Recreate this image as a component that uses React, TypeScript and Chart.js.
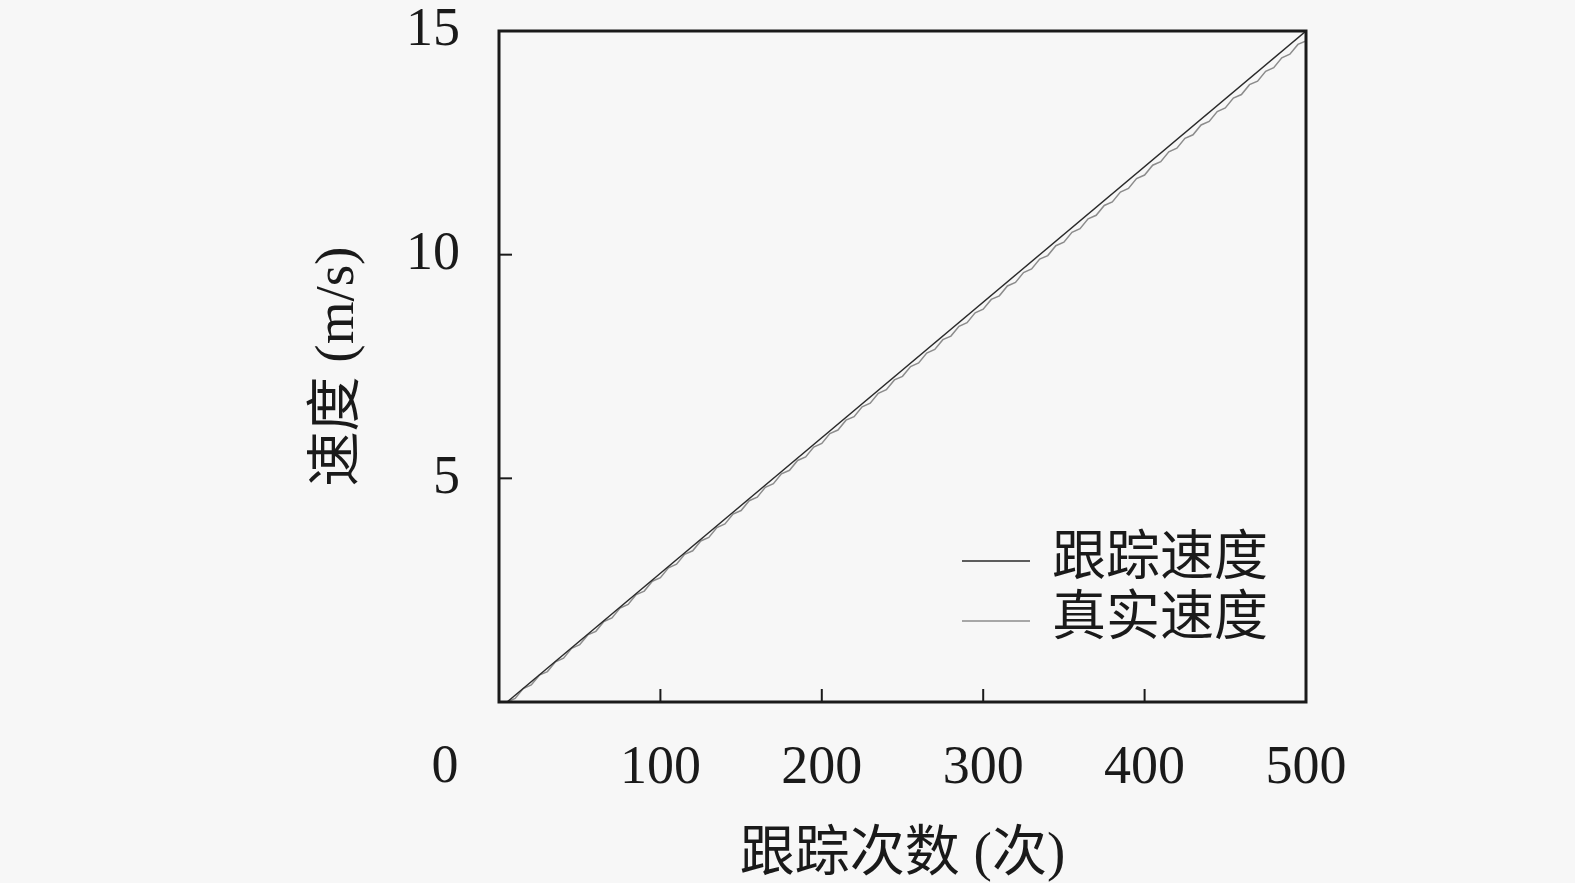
import { useEffect, useRef } from "react";
import { Chart, registerables } from "chart.js";

Chart.register(...registerables);

// 跟踪速度: straight line
const trackX = [5, 500];
const trackY = [0, 15];

// 真实速度: slightly lagging sawtooth
const trueX = [
  5, 10, 15, 20, 25, 30, 35, 40, 45, 50, 55, 60, 65, 70, 75, 80, 85, 90, 95, 100,
  105, 110, 115, 120, 125, 130, 135, 140, 145, 150, 155, 160, 165, 170, 175, 180, 185, 190, 195, 200,
  205, 210, 215, 220, 225, 230, 235, 240, 245, 250, 255, 260, 265, 270, 275, 280, 285, 290, 295, 300,
  305, 310, 315, 320, 325, 330, 335, 340, 345, 350, 355, 360, 365, 370, 375, 380, 385, 390, 395, 400,
  405, 410, 415, 420, 425, 430, 435, 440, 445, 450, 455, 460, 465, 470, 475, 480, 485, 490, 495, 500,
];
const trueY = [
  0, 0.08, 0.3, 0.38, 0.6, 0.68, 0.9, 0.98, 1.2, 1.28, 1.5, 1.58, 1.8, 1.88, 2.1, 2.18, 2.4, 2.48, 2.7, 2.78,
  3.0, 3.08, 3.3, 3.38, 3.6, 3.68, 3.9, 3.98, 4.2, 4.28, 4.5, 4.58, 4.8, 4.88, 5.1, 5.18, 5.4, 5.48, 5.7, 5.78,
  6.0, 6.08, 6.3, 6.38, 6.6, 6.68, 6.9, 6.98, 7.2, 7.28, 7.5, 7.58, 7.8, 7.88, 8.1, 8.18, 8.4, 8.48, 8.7, 8.78,
  9.0, 9.08, 9.3, 9.38, 9.6, 9.68, 9.9, 9.98, 10.2, 10.28, 10.5, 10.58, 10.8, 10.88, 11.1, 11.18, 11.4, 11.48, 11.7, 11.78,
  12.0, 12.08, 12.3, 12.38, 12.6, 12.68, 12.9, 12.98, 13.2, 13.28, 13.5, 13.58, 13.8, 13.88, 14.1, 14.18, 14.4, 14.48, 14.7, 14.78,
];

const xTicks = [0, 100, 200, 300, 400, 500];
const yTicks = [0, 5, 10, 15];
const seriesLabels = ["跟踪速度", "真实速度"];
const seriesColors = ["#2a2a2a", "#8c8c8c"];

const numFont = "'Liberation Serif', 'DejaVu Serif', serif";
const cjkFont = "'Liberation Serif', 'Noto Sans CJK SC', serif";

// background, box, inward ticks, origin label and legend inside the plot
const framePlugin = {
  id: "frame",
  beforeDraw(chart: any) {
    const { ctx, width, height } = chart;
    ctx.save();
    ctx.fillStyle = "#f7f7f7";
    ctx.fillRect(0, 0, width, height);
    ctx.restore();
  },
  afterDraw(chart: any) {
    const { ctx, chartArea } = chart;
    const xs = chart.scales.x;
    const ys = chart.scales.y;
    ctx.save();
    ctx.strokeStyle = "#1a1a1a";
    ctx.lineWidth = 3;
    ctx.strokeRect(chartArea.left, chartArea.top, chartArea.right - chartArea.left, chartArea.bottom - chartArea.top);

    ctx.lineWidth = 2;
    xTicks.slice(1, -1).forEach((v) => {
      const px = xs.getPixelForValue(v);
      ctx.beginPath();
      ctx.moveTo(px, chartArea.bottom);
      ctx.lineTo(px, chartArea.bottom - 13);
      ctx.stroke();
    });
    yTicks.slice(1, -1).forEach((v) => {
      const py = ys.getPixelForValue(v);
      ctx.beginPath();
      ctx.moveTo(chartArea.left, py);
      ctx.lineTo(chartArea.left + 13, py);
      ctx.stroke();
    });

    // shared origin label
    ctx.fillStyle = "#1a1a1a";
    ctx.font = `54px ${numFont}`;
    ctx.textAlign = "center";
    ctx.textBaseline = "middle";
    ctx.fillText(String(xTicks[0]), chartArea.left - 54, chartArea.bottom + 66);

    // legend
    ctx.font = `54px ${cjkFont}`;
    ctx.textAlign = "left";
    ctx.textBaseline = "middle";
    chart.data.datasets.forEach((ds: any, i: number) => {
      const y = chartArea.bottom - 141 + i * 60;
      const x0 = chartArea.right - 344;
      ctx.strokeStyle = ds.borderColor;
      ctx.lineWidth = 1.5;
      ctx.beginPath();
      ctx.moveTo(x0, y);
      ctx.lineTo(x0 + 68, y);
      ctx.stroke();
      ctx.fillStyle = "#1a1a1a";
      ctx.fillText(ds.label, x0 + 90, y);
    });
    ctx.restore();
  },
};

export default function App() {
  const canvasRef = useRef<HTMLCanvasElement | null>(null);

  useEffect(() => {
    document.body.style.margin = "0";
    document.body.style.background = "#f7f7f7";
    if (!canvasRef.current) return;

    const chart = new Chart(canvasRef.current, {
      type: "line",
      data: {
        datasets: [
          {
            label: seriesLabels[0],
            data: trackX.map((x, i) => ({ x, y: trackY[i] })),
            borderColor: seriesColors[0],
            borderWidth: 1.4,
            pointRadius: 0,
            tension: 0,
          },
          {
            label: seriesLabels[1],
            data: trueX.map((x, i) => ({ x, y: trueY[i] })),
            borderColor: seriesColors[1],
            borderWidth: 1.5,
            pointRadius: 0,
            tension: 0,
          },
        ],
      },
      options: {
        animation: false,
        responsive: true,
        maintainAspectRatio: false,
        layout: { padding: { left: 306, right: 269, top: 31, bottom: 0 } },
        plugins: {
          legend: { display: false },
          tooltip: { enabled: false },
        },
        scales: {
          x: {
            type: "linear",
            min: 0,
            max: 500,
            grid: { display: false, drawTicks: false },
            border: { display: false },
            afterBuildTicks: (scale: any) => {
              scale.ticks = xTicks.map((v) => ({ value: v }));
            },
            afterFit: (scale: any) => {
              scale.height = 181;
              scale.paddingLeft = 0;
              scale.paddingRight = 0;
            },
            ticks: {
              padding: 34,
              autoSkip: false,
              maxRotation: 0,
              color: "#1a1a1a",
              font: { family: numFont, size: 54 },
              callback: (v: any) => (v === 0 ? "" : String(v)),
            },
            title: {
              display: true,
              text: "跟踪次数 (次)",
              color: "#1a1a1a",
              font: { family: cjkFont, size: 55, lineHeight: 1 },
              padding: { top: 0, bottom: 0 },
            },
          },
          y: {
            type: "linear",
            min: 0,
            max: 15,
            grid: { display: false, drawTicks: false },
            border: { display: false },
            afterBuildTicks: (scale: any) => {
              scale.ticks = yTicks.map((v) => ({ value: v }));
            },
            afterFit: (scale: any) => {
              scale.width = 193;
              scale.paddingTop = 0;
              scale.paddingBottom = 0;
            },
            ticks: {
              padding: 39,
              color: "#1a1a1a",
              font: { family: numFont, size: 54 },
              callback: (v: any) => (v === 0 ? "" : String(v)),
            },
            title: {
              display: true,
              text: "速度 (m/s)",
              color: "#1a1a1a",
              font: { family: cjkFont, size: 55 },
              padding: { top: 0, bottom: 0 },
            },
          },
        },
      },
      plugins: [framePlugin],
    });

    return () => {
      chart.destroy();
    };
  }, []);

  return (
    <div style={{ position: "fixed", left: 0, top: 0, width: 1575, height: 883 }}>
      <canvas ref={canvasRef}></canvas>
    </div>
  );
}
